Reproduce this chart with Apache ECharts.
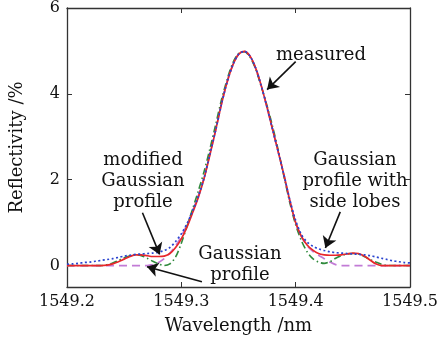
<!DOCTYPE html>
<html>
<head>
    <meta charset="utf-8">
    <title>Reflectivity</title>
    <script src="https://cdn.jsdelivr.net/npm/echarts@6/dist/echarts.min.js"></script>
</head>
<body style="margin:0;background:#fff">
    <div id="main" style="width:441px;height:343px;"></div>
    <script type="text/javascript">
        // wavelength samples (nm), every 0.005
        var wavelength = [
            1549.200, 1549.205, 1549.210, 1549.215, 1549.220, 1549.225, 1549.230, 1549.235, 1549.240, 1549.245,
            1549.250, 1549.255, 1549.260, 1549.265, 1549.270, 1549.275, 1549.280, 1549.285, 1549.290, 1549.295,
            1549.300, 1549.305, 1549.310, 1549.315, 1549.320, 1549.325, 1549.330, 1549.335, 1549.340, 1549.345,
            1549.350, 1549.355, 1549.360, 1549.365, 1549.370, 1549.375, 1549.380, 1549.385, 1549.390, 1549.395,
            1549.400, 1549.405, 1549.410, 1549.415, 1549.420, 1549.425, 1549.430, 1549.435, 1549.440, 1549.445,
            1549.450, 1549.455, 1549.460, 1549.465, 1549.470, 1549.475, 1549.480, 1549.485, 1549.490, 1549.495,
            1549.500
        ];
        // measured (blue dotted)
        var measured = [
            0.03, 0.04, 0.05, 0.07, 0.08, 0.10, 0.12, 0.14, 0.16, 0.19,
            0.22, 0.24, 0.26, 0.27, 0.28, 0.29, 0.31, 0.35, 0.42, 0.56,
            0.74, 0.98, 1.28, 1.62, 2.05, 2.60, 3.15, 3.75, 4.27, 4.67,
            4.92, 4.99, 4.88, 4.60, 4.18, 3.68, 3.15, 2.62, 2.08, 1.52,
            1.05, 0.72, 0.55, 0.45, 0.39, 0.35, 0.32, 0.30, 0.29, 0.28,
            0.27, 0.26, 0.25, 0.23, 0.20, 0.17, 0.14, 0.11, 0.09, 0.07,
            0.06
        ];
        // modified Gaussian profile (red solid)
        var modified = [
            0.00, 0.00, 0.00, 0.00, 0.00, 0.00, 0.00, 0.01, 0.04, 0.09,
            0.15, 0.21, 0.25, 0.25, 0.23, 0.21, 0.21, 0.22, 0.28, 0.42,
            0.62, 0.90, 1.24, 1.60, 2.04, 2.58, 3.15, 3.75, 4.27, 4.67,
            4.92, 4.99, 4.88, 4.60, 4.18, 3.68, 3.15, 2.62, 2.08, 1.50,
            1.00, 0.68, 0.48, 0.36, 0.28, 0.25, 0.24, 0.24, 0.25, 0.27,
            0.29, 0.28, 0.22, 0.13, 0.04, 0.00, 0.00, 0.00, 0.00, 0.00,
            0.00
        ];
        // Gaussian profile with side lobes (green dash-dot)
        var sideLobes = [
            0.00, 0.00, 0.00, 0.00, 0.00, 0.00, 0.00, 0.02, 0.06, 0.12,
            0.18, 0.23, 0.25, 0.23, 0.17, 0.10, 0.04, 0.00, 0.04, 0.20,
            0.52, 0.92, 1.33, 1.75, 2.20, 2.72, 3.28, 3.85, 4.33, 4.72,
            4.94, 4.98, 4.86, 4.58, 4.16, 3.72, 3.22, 2.66, 2.05, 1.45,
            0.95, 0.58, 0.32, 0.16, 0.08, 0.05, 0.09, 0.17, 0.23, 0.27,
            0.28, 0.27, 0.21, 0.14, 0.08, 0.03, 0.00, 0.00, 0.00, 0.00,
            0.00
        ];
        // Gaussian profile (purple dashed)
        var gaussian = [
            0.00, 0.00, 0.00, 0.00, 0.00, 0.00, 0.00, 0.00, 0.00, 0.00,
            0.00, 0.00, 0.00, 0.00, 0.00, 0.02, 0.07, 0.16, 0.29, 0.46,
            0.68, 0.96, 1.28, 1.64, 2.06, 2.60, 3.15, 3.75, 4.27, 4.67,
            4.92, 4.99, 4.88, 4.60, 4.18, 3.68, 3.15, 2.62, 2.08, 1.50,
            1.00, 0.68, 0.46, 0.33, 0.24, 0.16, 0.08, 0.02, 0.00, 0.00,
            0.00, 0.00, 0.00, 0.00, 0.00, 0.00, 0.00, 0.00, 0.00, 0.00,
            0.00
        ];
        var xTicks = [1549.2, 1549.3, 1549.4, 1549.5];
        var yTicks = [0, 2, 4, 6];

        // arrows: [from, to] in data coords
        var arrows = [
            [[1549.400, 4.75], [1549.375, 4.10]],
            [[1549.266, 1.23], [1549.281, 0.26]],
            [[1549.318, -0.38], [1549.270, -0.03]],
            [[1549.439, 1.25], [1549.426, 0.41]]
        ];

        function pairs(ys) {
            return wavelength.map(function (x, i) { return [x, ys[i]]; });
        }

        var font = '"DejaVu Serif", serif';
        var axisColor = '#333';
        var textColor = '#111';

        var myChart = echarts.init(document.getElementById('main'));

        var option = {
            animation: false,
            backgroundColor: '#fff',
            grid: { left: 65, right: 20, top: 8, bottom: 56 },
            xAxis: [{
                type: 'value',
                min: 1549.2, max: 1549.5, interval: 0.1,
                position: 'bottom',
                name: 'Wavelength /nm',
                nameLocation: 'middle',
                nameGap: 30,
                nameTextStyle: { fontFamily: font, fontSize: 18, color: textColor },
                axisLine: { show: true, onZero: false, lineStyle: { color: axisColor, width: 1.3 } },
                axisTick: { inside: true, length: 5, lineStyle: { color: axisColor }, customValues: xTicks },
                axisLabel: {
                    fontFamily: font, fontSize: 16, color: textColor, margin: 7,
                    customValues: xTicks,
                    formatter: function (v) { return v.toFixed(1); }
                },
                splitLine: { show: false }
            }, {
                type: 'value',
                min: 1549.2, max: 1549.5, interval: 0.1,
                position: 'top',
                axisLine: { show: true, onZero: false, lineStyle: { color: axisColor, width: 1.3 } },
                axisTick: { inside: true, length: 5, lineStyle: { color: axisColor }, customValues: xTicks },
                axisLabel: { show: false },
                splitLine: { show: false }
            }],
            yAxis: [{
                type: 'value',
                min: -0.5, max: 6,
                position: 'left',
                name: 'Reflectivity /%',
                nameLocation: 'middle',
                nameGap: 41,
                nameTextStyle: { fontFamily: font, fontSize: 18, color: textColor },
                axisLine: { show: true, onZero: false, lineStyle: { color: axisColor, width: 1.3 } },
                axisTick: { show: true, inside: true, length: 5, lineStyle: { color: axisColor }, customValues: yTicks },
                axisLabel: { fontFamily: font, fontSize: 16, color: textColor, margin: 7, customValues: yTicks },
                splitLine: { show: false }
            }, {
                type: 'value',
                min: -0.5, max: 6,
                position: 'right',
                axisLine: { show: true, onZero: false, lineStyle: { color: axisColor, width: 1.3 } },
                axisTick: { show: true, inside: true, length: 5, lineStyle: { color: axisColor }, customValues: yTicks },
                axisLabel: { show: false },
                splitLine: { show: false }
            }],
            series: [{
                name: 'Gaussian profile',
                type: 'line',
                data: pairs(gaussian),
                smooth: 0.3,
                symbol: 'none',
                lineStyle: { color: '#c27bd6', width: 1.7, type: [8, 5] },
                markLine: {
                    silent: true,
                    symbol: ['none', 'arrow'],
                    symbolSize: 11,
                    label: { show: false },
                    lineStyle: { color: '#111', width: 1.6, type: 'solid' },
                    data: arrows.map(function (a) {
                        return [{ coord: a[0] }, { coord: a[1] }];
                    })
                }
            }, {
                name: 'Gaussian profile with side lobes',
                type: 'line',
                data: pairs(sideLobes),
                smooth: 0.3,
                symbol: 'none',
                lineStyle: { color: '#2f8a3c', width: 1.6, type: [7, 3, 1.5, 3] }
            }, {
                name: 'modified Gaussian profile',
                type: 'line',
                data: pairs(modified),
                smooth: 0.3,
                symbol: 'none',
                lineStyle: { color: '#e8262a', width: 1.7 }
            }, {
                name: 'measured',
                type: 'line',
                data: pairs(measured),
                smooth: 0.3,
                symbol: 'none',
                lineStyle: { color: '#2a44cf', width: 1.7, type: [2, 2.5] }
            }],
            graphic: [
                { type: 'text', x: 321, y: 55, style: { text: 'measured', font: '18px ' + font, fill: textColor, align: 'center', verticalAlign: 'middle' } },
                { type: 'text', x: 143, y: 181, style: { text: 'modified\nGaussian\nprofile', font: '18px ' + font, lineHeight: 21, fill: textColor, align: 'center', verticalAlign: 'middle' } },
                { type: 'text', x: 240, y: 265, style: { text: 'Gaussian\nprofile', font: '18px ' + font, lineHeight: 21, fill: textColor, align: 'center', verticalAlign: 'middle' } },
                { type: 'text', x: 355, y: 181, style: { text: 'Gaussian\nprofile with\nside lobes', font: '18px ' + font, lineHeight: 21, fill: textColor, align: 'center', verticalAlign: 'middle' } }
            ]
        };

        myChart.setOption(option);
    </script>
</body>
</html>
